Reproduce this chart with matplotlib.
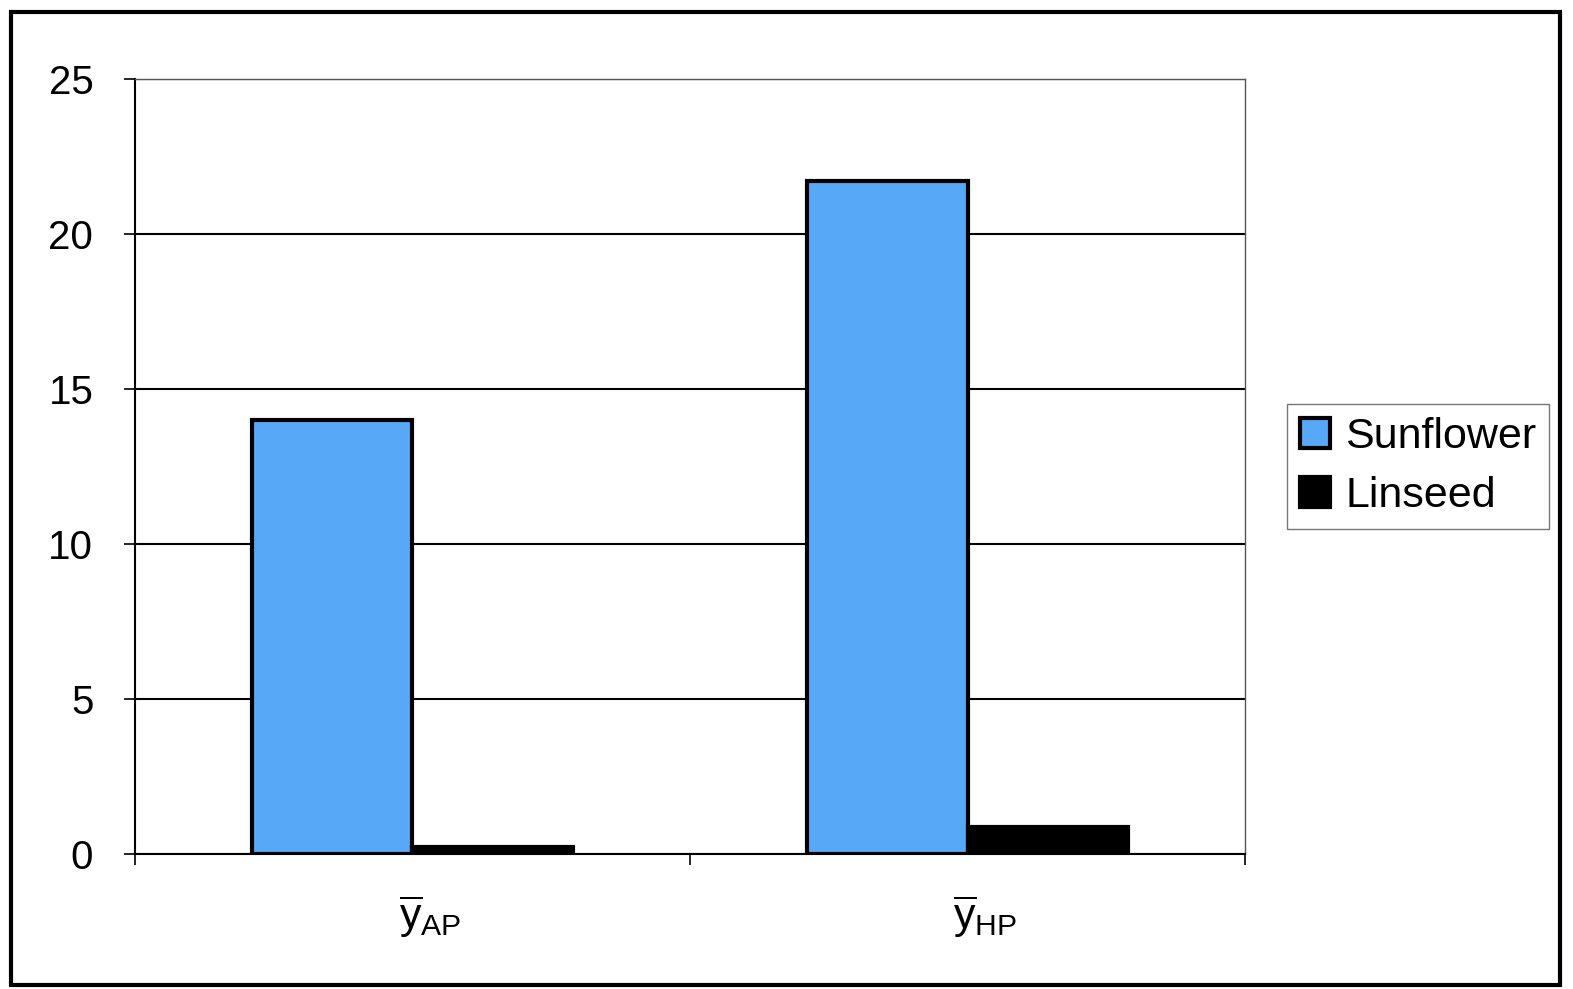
import numpy as np
import matplotlib.pyplot as plt
import matplotlib.transforms as mtransforms
from matplotlib.patches import Rectangle

plt.rcParams['font.family'] = ['Liberation Sans', 'DejaVu Sans']
plt.rcParams['mathtext.fontset'] = 'custom'
plt.rcParams['mathtext.rm'] = 'Liberation Sans'
plt.rcParams['mathtext.it'] = 'Liberation Sans'

# -------- data --------
categories = [r'$\overline{\mathrm{y}}_{\mathrm{AP}}$', r'$\overline{\mathrm{y}}_{\mathrm{HP}}$']
sunflower = [14.0, 21.7]
linseed = [0.22, 0.88]

fig = plt.figure(figsize=(15.73, 9.89), dpi=100)
ax = fig.add_axes([0.0858, 0.1365, 0.7057, 0.7836])

x = np.arange(len(categories))
w = 0.29
ax.bar(x - w / 2, sunflower, w, color='#57a8f6', edgecolor='black', linewidth=3,
       label='Sunflower', zorder=3)
ax.bar(x + w / 2, linseed, w, color='black', edgecolor='black', linewidth=3,
       label='Linseed', zorder=3)

ax.set_xlim(-0.5, 1.5)
ax.set_ylim(0, 25)
ax.set_yticks([0, 5, 10, 15, 20, 25])
ax.yaxis.grid(True, color='black', linewidth=1.5, zorder=0)
ax.set_axisbelow(True)

ax.set_xticks(x)
ax.set_xticklabels(categories, fontsize=31)
ax.set_xticks([-0.5, 0.5, 1.5], minor=True)
ax.tick_params(axis='x', which='major', length=0, pad=28)
ax.tick_params(axis='x', which='minor', length=8, width=1.2)
ax.tick_params(axis='y', labelsize=29, length=8, width=1.2, pad=22)

# labels sit a little right of the category centre in the original
shift = mtransforms.ScaledTranslation(0.18, 0, fig.dpi_scale_trans)
for lbl in ax.get_xticklabels():
    lbl.set_transform(lbl.get_transform() + shift)

for s in ['left', 'bottom']:
    ax.spines[s].set_linewidth(1.5)
for s in ['top', 'right']:
    ax.spines[s].set_linewidth(1.0)
    ax.spines[s].set_color('#555555')

leg = ax.legend(loc='center left', bbox_to_anchor=(1.03, 0.5), fontsize=31,
                frameon=True, fancybox=False, edgecolor='#555555',
                handlelength=0.7, handleheight=0.7, handletextpad=0.35,
                borderpad=0.3, labelspacing=0.45, borderaxespad=0.2)
leg.get_frame().set_linewidth(1.0)

# outer chart border
fig.patches.append(Rectangle((0.007, 0.004), 0.985, 0.984, transform=fig.transFigure,
                             fill=False, edgecolor='black', linewidth=3))

plt.savefig('out.png', dpi=100)
